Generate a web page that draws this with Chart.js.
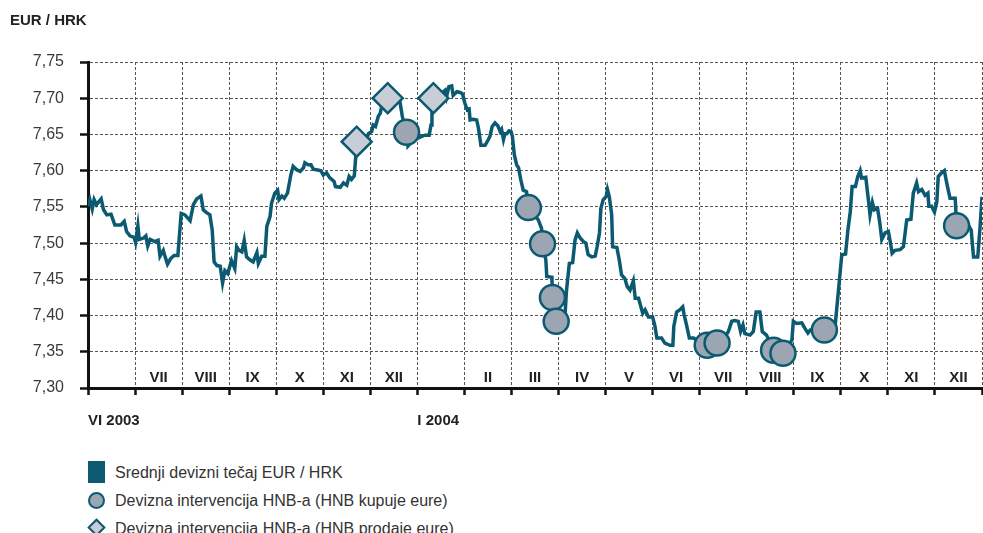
<!DOCTYPE html>
<html lang="hr">
  <head>
    <meta charset="UTF-8" />
    <title>EUR / HRK</title>
    <style>
      * {
        box-sizing: border-box;
        margin: 0;
        padding: 0;
      }
      html,
      body {
        width: 983px;
        height: 533px;
        background: #fff;
        font-family: "Liberation Sans", Arial, sans-serif;
        color: #333;
        overflow: hidden;
      }
      .page {
        position: relative;
        width: 983px;
        height: 533px;
      }
      .title {
        position: absolute;
        left: 10px;
        top: 11px;
        font-size: 15px;
        font-weight: bold;
        color: #222;
      }
      #rateChart {
        position: absolute;
        left: 0;
        top: 0;
      }
      .legend {
        position: absolute;
        left: 88px;
        top: 461px;
        font-size: 16px;
        color: #333;
      }
      .legend__item {
        position: relative;
        height: 27.8px;
        padding-left: 27px;
        line-height: 23px;
      }
      .legend__swatch {
        position: absolute;
        left: 0;
      }
      .swatch--line {
        top: 0;
        width: 17px;
        height: 22px;
        background: #0b5a72;
      }
      .swatch--buy {
        top: 3px;
        left: 0px;
        width: 17px;
        height: 17px;
        border-radius: 50%;
        background: #9ba6b2;
        border: 2px solid #0b5a72;
      }
      .swatch--sell {
        top: 4px;
        left: 2px;
        width: 13px;
        height: 13px;
        transform: rotate(45deg);
        background: #c9cdd5;
        border: 2px solid #0b5a72;
      }
    </style>
  </head>
  <body>
    <div class="page">
      <canvas id="rateChart" width="983" height="440"></canvas>
      <div class="title">EUR / HRK</div>
      <div class="legend">
        <div class="legend__item">
          <span class="legend__swatch swatch--line"></span>Srednji devizni tečaj EUR / HRK
        </div>
        <div class="legend__item">
          <span class="legend__swatch swatch--buy"></span>Devizna intervencija HNB-a (HNB kupuje eure)
        </div>
        <div class="legend__item">
          <span class="legend__swatch swatch--sell"></span>Devizna intervencija HNB-a (HNB prodaje eure)
        </div>
      </div>
    </div>

    <script src="https://cdn.jsdelivr.net/npm/chart.js"></script>
    <script>
      // months from VI 2003 to XII 2004 (x axis is in months since 1 June 2003)
      const months = ["VI", "VII", "VIII", "IX", "X", "XI", "XII", "I", "II", "III",
        "IV", "V", "VI", "VII", "VIII", "IX", "X", "XI", "XII"];
      const yearLabels = { 0: "VI 2003", 7: "I 2004" };

      // srednji tecaj EUR/HRK
      const rateT = [0, 0.04, 0.09, 0.13, 0.18, 0.28, 0.33, 0.40, 0.49, 0.57, 0.70, 0.77, 0.82, 0.89, 0.98,
        1.01, 1.06, 1.09, 1.18, 1.23, 1.27, 1.32, 1.42, 1.49, 1.53, 1.60, 1.64, 1.69, 1.76, 1.83, 1.91,
        1.98, 2.06, 2.17, 2.24, 2.31, 2.40, 2.45, 2.52, 2.59, 2.64, 2.68, 2.74, 2.81, 2.86, 2.91, 2.97,
        3.05, 3.12, 3.16, 3.21, 3.27, 3.32, 3.37, 3.44, 3.51, 3.59, 3.62, 3.69, 3.76, 3.80, 3.87, 3.90, 3.97,
        4.03, 4.06, 4.12, 4.17, 4.24, 4.31, 4.36, 4.44, 4.51, 4.58, 4.61, 4.68, 4.74, 4.79, 4.88, 4.95,
        5.00, 5.07, 5.14, 5.23, 5.26, 5.36, 5.43, 5.50, 5.55, 5.60, 5.66, 5.69, 5.71, 5.92, 5.96,
        6.03, 6.06, 6.11, 6.17, 6.21, 6.24, 6.37, 6.63, 6.68, 6.77, 6.80, 6.88,
        7.01, 7.08, 7.16, 7.25, 7.29, 7.31, 7.34, 7.52, 7.59, 7.62, 7.67, 7.73, 7.76, 7.84, 7.91, 7.96,
        8.01, 8.06, 8.10, 8.12, 8.19, 8.26, 8.30, 8.35, 8.44, 8.50, 8.54, 8.59, 8.65, 8.71, 8.76, 8.79,
        8.83, 8.86, 8.90, 8.95, 8.99, 9.02, 9.06, 9.11, 9.15, 9.20, 9.25, 9.32, 9.36, 9.57, 9.64, 9.66,
        9.73, 9.75, 9.86, 9.87, 9.95, 10.14, 10.17, 10.23, 10.30, 10.35, 10.40, 10.46, 10.53, 10.58,
        10.63, 10.71, 10.78, 10.82, 10.87, 10.90, 10.95, 11.01, 11.04, 11.08, 11.13, 11.15, 11.24,
        11.29, 11.34, 11.41, 11.46, 11.52, 11.59, 11.63, 11.70, 11.73, 11.79, 11.84, 11.91, 12.00,
        12.05, 12.09, 12.19, 12.26, 12.37, 12.43, 12.45, 12.51, 12.58, 12.64, 12.67, 12.72, 12.78,
        12.87, 12.94, 13.11, 13.36, 13.54, 13.61, 13.68, 13.75, 13.82, 13.87, 13.92, 13.96, 14.07,
        14.14, 14.20, 14.28, 14.33, 14.42, 14.57, 14.78, 14.96, 14.99, 15.06, 15.17, 15.24, 15.30,
        15.35, 15.65, 15.88, 15.95, 16.02, 16.10, 16.15, 16.20, 16.24, 16.31, 16.36, 16.41, 16.44,
        16.53, 16.59, 16.62, 16.67, 16.71, 16.78, 16.83, 16.87, 16.94, 17.01, 17.05, 17.09, 17.15,
        17.26, 17.33, 17.40, 17.49, 17.54, 17.61, 17.65, 17.72, 17.79, 17.85, 17.87, 17.93, 17.99,
        18.04, 18.07, 18.14, 18.20, 18.25, 18.32, 18.43, 18.46, 18.71, 18.77, 18.82, 18.91, 18.96, 19.00];
      const rateV = [7.551, 7.560, 7.547, 7.560, 7.553, 7.561, 7.546, 7.539, 7.540, 7.525, 7.525, 7.530, 7.516, 7.510, 7.508,
        7.501, 7.524, 7.505, 7.507, 7.510, 7.496, 7.505, 7.502, 7.504, 7.482, 7.490, 7.481, 7.471, 7.479, 7.483, 7.483,
        7.541, 7.539, 7.531, 7.553, 7.561, 7.565, 7.546, 7.542, 7.539, 7.518, 7.474, 7.469, 7.468, 7.445, 7.462, 7.458,
        7.476, 7.465, 7.495, 7.490, 7.488, 7.504, 7.481, 7.477, 7.474, 7.487, 7.472, 7.482, 7.482, 7.523, 7.537, 7.555, 7.569,
        7.573, 7.560, 7.565, 7.562, 7.569, 7.594, 7.606, 7.601, 7.599, 7.604, 7.611, 7.608, 7.608, 7.602, 7.601, 7.600,
        7.594, 7.597, 7.590, 7.585, 7.578, 7.577, 7.583, 7.580, 7.592, 7.588, 7.593, 7.619, 7.640, 7.642, 7.651,
        7.654, 7.663, 7.661, 7.675, 7.679, 7.688, 7.700, 7.695, 7.675, 7.653, 7.634, 7.640,
        7.645, 7.647, 7.649, 7.649, 7.663, 7.679, 7.700, 7.707, 7.711, 7.702, 7.716, 7.717, 7.704, 7.709, 7.708, 7.706,
        7.693, 7.684, 7.685, 7.670, 7.671, 7.670, 7.658, 7.635, 7.635, 7.642, 7.647, 7.661, 7.666, 7.662, 7.654, 7.657,
        7.643, 7.651, 7.651, 7.655, 7.654, 7.647, 7.622, 7.608, 7.604, 7.587, 7.573, 7.571, 7.549, 7.532, 7.520, 7.499,
        7.477, 7.454, 7.453, 7.425, 7.392, 7.403, 7.435, 7.472, 7.473, 7.504, 7.514, 7.507, 7.502, 7.500,
        7.484, 7.481, 7.482, 7.495, 7.514, 7.548, 7.560, 7.564, 7.574, 7.564, 7.539, 7.495, 7.494,
        7.477, 7.456, 7.451, 7.440, 7.435, 7.448, 7.424, 7.424, 7.417, 7.403, 7.408, 7.398, 7.398,
        7.385, 7.369, 7.369, 7.362, 7.359, 7.359, 7.385, 7.405, 7.408, 7.412, 7.401, 7.387, 7.369,
        7.369, 7.366, 7.359, 7.363, 7.371, 7.378, 7.392, 7.393, 7.392, 7.378, 7.387, 7.375, 7.373,
        7.378, 7.405, 7.405, 7.378, 7.373, 7.352, 7.350, 7.366, 7.392, 7.389, 7.390, 7.382, 7.376,
        7.380, 7.380, 7.387, 7.435, 7.484, 7.485, 7.518, 7.543, 7.578, 7.578, 7.592, 7.600, 7.590,
        7.591, 7.557, 7.539, 7.556, 7.546, 7.548, 7.527, 7.505, 7.514, 7.516, 7.502, 7.486, 7.490,
        7.491, 7.495, 7.532, 7.533, 7.569, 7.583, 7.571, 7.574, 7.566, 7.569, 7.551, 7.551, 7.543,
        7.557, 7.592, 7.597, 7.600, 7.583, 7.562, 7.562, 7.524, 7.525, 7.518, 7.481, 7.481, 7.523, 7.564];

      // intervencije: HNB kupuje eure
      const buyT = [6.77, 9.36, 9.66, 9.87, 9.95, 13.16, 13.37, 14.57, 14.77, 15.65, 18.46];
      const buyV = [7.653, 7.549, 7.499, 7.425, 7.392, 7.359, 7.362, 7.352, 7.348, 7.380, 7.524];

      // intervencije: HNB prodaje eure
      const sellT = [5.71, 6.37, 7.34];
      const sellV = [7.640, 7.700, 7.700];

      const toPoints = (xs, ys) => xs.map((x, i) => ({ x: x, y: ys[i] }));

      const teal = "#0b5a72";
      const fontFamily = "'Liberation Sans', Arial, sans-serif";

      // roman month names inside the plot and year labels under the axis
      const monthLabelsPlugin = {
        id: "monthLabels",
        afterDraw(chart) {
          const ctx = chart.ctx;
          const xs = chart.scales.x;
          const bottom = chart.chartArea.bottom;
          ctx.save();
          ctx.font = "bold 15px " + fontFamily;
          ctx.fillStyle = "#222";
          ctx.textBaseline = "middle";
          months.forEach((m, i) => {
            if (yearLabels[i] !== undefined) {
              ctx.textAlign = "left";
              ctx.fillText(yearLabels[i], xs.getPixelForValue(i), bottom + 33);
            } else {
              ctx.textAlign = "center";
              ctx.fillText(m, xs.getPixelForValue(i + 0.5), bottom - 10);
            }
          });
          ctx.restore();
        },
      };

      new Chart(document.getElementById("rateChart"), {
        data: {
          datasets: [
            {
              type: "line",
              label: "Srednji devizni tečaj EUR / HRK",
              data: toPoints(rateT, rateV),
              borderColor: teal,
              borderWidth: 3.5,
              pointRadius: 0,
              tension: 0,
              order: 2,
            },
            {
              type: "scatter",
              label: "Devizna intervencija HNB-a (HNB kupuje eure)",
              data: toPoints(buyT, buyV),
              pointStyle: "circle",
              pointRadius: 12.5,
              backgroundColor: "#9ba6b2",
              borderColor: teal,
              borderWidth: 2.5,
              order: 1,
            },
            {
              type: "scatter",
              label: "Devizna intervencija HNB-a (HNB prodaje eure)",
              data: toPoints(sellT, sellV),
              pointStyle: "rectRot",
              pointRadius: 15,
              backgroundColor: "#c9cdd5",
              borderColor: teal,
              borderWidth: 2.5,
              order: 0,
            },
          ],
        },
        options: {
          responsive: false,
          animation: false,
          devicePixelRatio: 1,
          layout: {
            autoPadding: false,
            padding: { top: 62, right: 1, left: 0, bottom: 0 },
          },
          plugins: {
            legend: { display: false },
            tooltip: { enabled: false },
          },
          scales: {
            x: {
              type: "linear",
              min: 0,
              max: months.length,
              afterFit: (scale) => {
                scale.height = 52;
              },
              ticks: {
                display: false,
                stepSize: 1,
                autoSkip: false,
                maxRotation: 0,
              },
              grid: {
                color: "#555",
                lineWidth: 1,
                tickLength: 7,
                tickColor: "#111",
                tickWidth: 2.5,
              },
              border: { color: "#111", width: 3, dash: [3, 2] },
            },
            y: {
              min: 7.3,
              max: 7.75,
              afterFit: (scale) => {
                scale.width = 88;
              },
              ticks: {
                stepSize: 0.05,
                padding: 16,
                color: "#3a3a3a",
                font: { family: fontFamily, size: 16 },
                callback: (v) => v.toFixed(2).replace(".", ","),
              },
              grid: {
                color: "#555",
                lineWidth: 1,
                tickLength: 8,
                tickColor: "#111",
                tickWidth: 2.5,
              },
              border: { color: "#111", width: 3, dash: [3, 2] },
            },
          },
        },
        plugins: [monthLabelsPlugin],
      });
    </script>
  </body>
</html>
